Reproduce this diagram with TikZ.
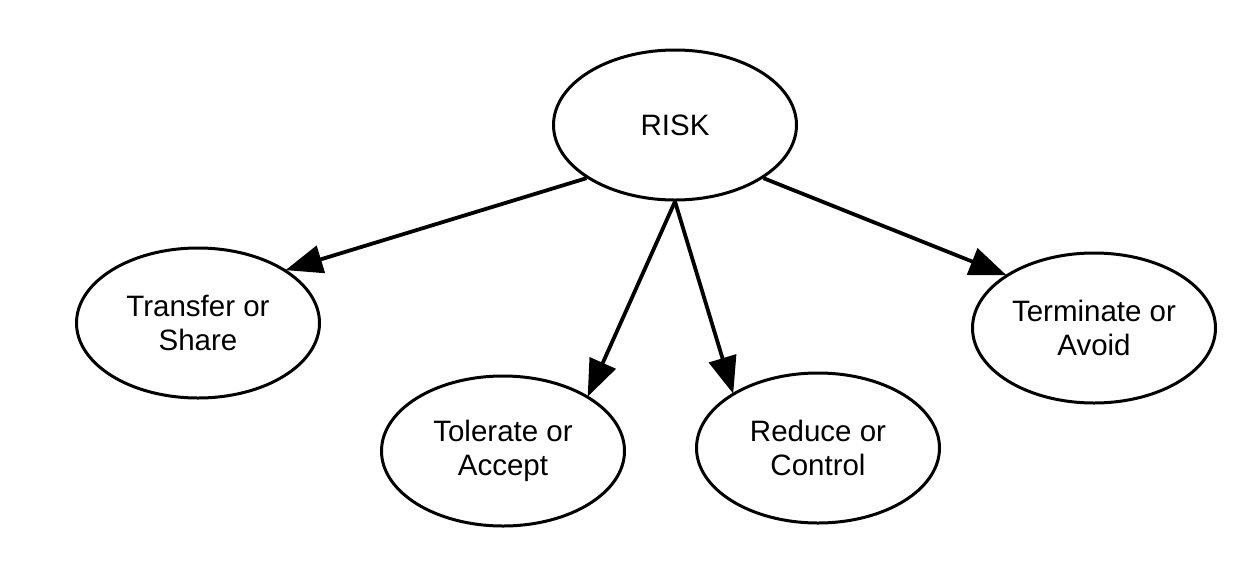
\documentclass[tikz,border=0pt]{standalone}
\usepackage{fontspec}
\setmainfont{Liberation Sans}
\usetikzlibrary{arrows.meta,shapes.geometric}
\begin{document}
\begin{tikzpicture}[x=1pt,y=-1pt,
  oval/.style={draw=black, line width=3pt, ellipse, minimum width=243pt, minimum height=150pt, inner sep=0pt,
    align=center, font=\fontsize{29.5pt}{34pt}\selectfont},
  conn/.style={line width=3.8pt, -{Triangle[length=37pt,width=28pt]}, shorten >=-1pt}]
\useasboundingbox (0,0) rectangle (1245,560);
\node[oval] (risk) at (675,125) {RISK};
\node[oval] (transfer) at (198,323) {Transfer or\\Share};
\node[oval] (tolerate) at (503,451) {Tolerate or\\Accept};
\node[oval] (reduce) at (818,448) {Reduce or\\Control};
\node[oval] (terminate) at (1094,328) {Terminate or\\Avoid};
\draw[conn] (risk.-149) -- (transfer.31);
\draw[conn] (risk.-90.5) -- (tolerate.33);
\draw[conn] (risk.-90) -- (reduce.147);
\draw[conn] (risk.-31) -- (terminate.149);
\end{tikzpicture}
\end{document}
